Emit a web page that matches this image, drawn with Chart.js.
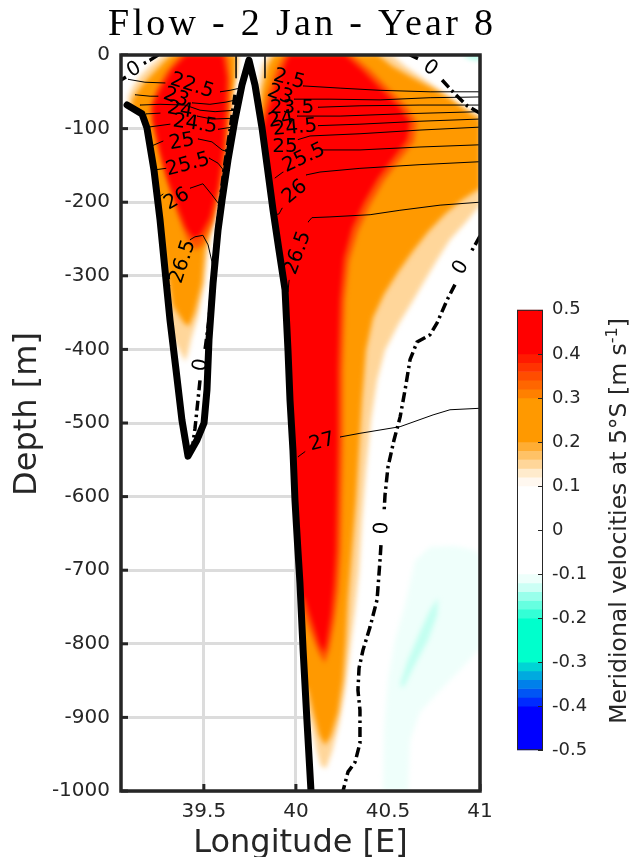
<!DOCTYPE html>
<html>
<head>
<meta charset="utf-8">
<title>Flow - 2 Jan - Year 8</title>
<script src="https://cdn.jsdelivr.net/npm/chart.js@4.4.1/dist/chart.umd.min.js"></script>
<style>
  html, body { margin: 0; padding: 0; background: #ffffff; }
  #page { position: relative; width: 631px; height: 857px; overflow: hidden; }
  #section { position: absolute; left: 0; top: 0; }
  #colorbar { position: absolute; left: 505px; top: 290px; }
</style>
</head>
<body>
<div id="page">
  <canvas id="section" width="631" height="857"></canvas>
  <canvas id="colorbar" width="126" height="480"></canvas>
</div>
<script>
// ---------------- axes and legend ----------------
const chartTitle = 'Flow - 2 Jan - Year 8';
const xTicks = [39.5, 40, 40.5, 41];
const yTicks = [0, -100, -200, -300, -400, -500, -600, -700, -800, -900, -1000];
const cbTicks = [0.5, 0.4, 0.3, 0.2, 0.1, 0, -0.1, -0.2, -0.3, -0.4, -0.5];
const cbBreaks = [-0.5, -0.4, -0.38, -0.36, -0.34, -0.32, -0.3, -0.2, -0.18, -0.16, -0.14, -0.12, -0.1,
                  0.1, 0.12, 0.14, 0.16, 0.18, 0.2, 0.3, 0.32, 0.34, 0.36, 0.38, 0.4, 0.5];
const cbColors = ['#0000ff', '#002bff', '#0055f5', '#0080ea', '#00aadf', '#00d4d5', '#00ffcc',
                  '#33ffd6', '#66ffe0', '#99ffeb', '#ccfff5', '#eefffb', '#ffffff',
                  '#fff8f0', '#ffebcc', '#ffd699', '#ffc266', '#ffad33', '#ff9900',
                  '#ff8000', '#ff6600', '#ff4d00', '#ff3300', '#ff1a00', '#ff0000'];

// ---------------- sea floor along 5°S (lon, depth m) ----------------
const bottomProfile = [
  [39.083, -68], [39.164, -80], [39.191, -99], [39.229, -156], [39.262, -224], [39.289, -292],
  [39.316, -360], [39.349, -428], [39.381, -496], [39.414, -545], [39.463, -523], [39.501, -500],
  [39.517, -455], [39.528, -387], [39.550, -310], [39.577, -238], [39.599, -197], [39.631, -143],
  [39.669, -88], [39.707, -41], [39.745, -7], [39.778, -41], [39.816, -99], [39.843, -149],
  [39.876, -211], [39.908, -265], [39.941, -319], [39.957, -401], [39.968, -469], [39.984, -537],
  [39.995, -605], [40.011, -673], [40.022, -717], [40.039, -808], [40.060, -904], [40.082, -1000]
];
const reefEdgeWest = [[39.675, 0], [39.675, -31]];
const reefEdgeEast = [[39.832, 0], [39.832, -31]];

// ---------------- meridional velocity, filled levels ----------------
const eastJet10 = [
  [39.848, 0], [40.522, 0], [40.593, -15], [40.685, -31], [40.783, -48], [40.881, -67], [40.957, -77], [41.0, -80],
  [41.0, -204], [40.924, -227], [40.837, -251], [40.766, -279], [40.701, -306], [40.631, -336], [40.555, -367],
  [40.484, -401], [40.441, -442], [40.408, -496], [40.381, -564], [40.359, -632], [40.343, -700], [40.321, -754],
  [40.294, -808], [40.267, -863], [40.234, -910], [40.196, -947], [40.164, -969], [40.136, -966], [40.109, -942],
  [40.077, -904], [40.022, -876], [39.914, -605], [39.832, -333], [39.778, -129], [39.794, -48], [39.816, -14]
];
const eastJet20 = [
  [39.881, 0], [40.446, 0], [40.522, -15], [40.620, -29], [40.739, -45], [40.848, -61], [40.935, -77], [41.0, -88],
  [41.0, -181], [40.902, -197], [40.810, -216], [40.718, -240], [40.631, -268], [40.555, -295], [40.479, -325],
  [40.419, -357], [40.381, -401], [40.359, -469], [40.343, -537], [40.327, -605], [40.305, -673], [40.283, -740],
  [40.272, -795], [40.256, -849], [40.229, -893], [40.191, -925], [40.158, -938], [40.126, -924], [40.093, -893],
  [40.066, -863], [40.011, -849], [39.914, -605], [39.832, -333], [39.794, -115], [39.816, -48], [39.848, -14]
];
const eastJet30 = [
  [39.935, 0], [40.305, 0], [40.403, -20], [40.500, -45], [40.598, -69], [40.658, -91], [40.642, -118],
  [40.560, -144], [40.479, -171], [40.403, -204], [40.337, -240], [40.289, -281], [40.267, -333], [40.256, -428],
  [40.256, -523], [40.250, -605], [40.245, -673], [40.232, -727], [40.210, -770], [40.182, -808], [40.156, -826],
  [40.122, -812], [40.080, -785], [40.044, -761], [39.990, -740], [39.903, -469], [39.837, -224], [39.805, -102],
  [39.843, -54], [39.892, -20]
];
const eastJet40 = [
  [39.963, 0], [40.267, 0], [40.359, -20], [40.457, -45], [40.555, -69], [40.620, -91], [40.604, -115],
  [40.528, -140], [40.446, -167], [40.370, -200], [40.305, -235], [40.261, -276], [40.240, -333], [40.229, -428],
  [40.229, -523], [40.223, -605], [40.218, -673], [40.207, -720], [40.191, -761], [40.169, -796], [40.153, -812],
  [40.126, -800], [40.087, -770], [40.049, -740], [39.995, -727], [39.914, -469], [39.848, -224], [39.816, -102],
  [39.870, -58], [39.914, -27]
];
const westJet10 = [
  [39.278, 0], [39.686, 0], [39.680, -27], [39.660, -54], [39.636, -102], [39.603, -156], [39.565, -211],
  [39.523, -265], [39.505, -310], [39.468, -356], [39.432, -385], [39.414, -405], [39.398, -416], [39.375, -405],
  [39.320, -380], [39.250, -250], [39.180, -120], [39.110, -85], [39.088, -58], [39.110, -45], [39.153, -29],
  [39.208, -15], [39.251, -5]
];
const westJet20 = [
  [39.327, 0], [39.675, 0], [39.672, -27], [39.650, -61], [39.625, -110], [39.590, -165], [39.550, -220],
  [39.506, -265], [39.490, -310], [39.450, -350], [39.420, -368], [39.395, -365], [39.330, -340], [39.250, -220],
  [39.175, -110], [39.115, -75], [39.110, -61], [39.153, -45], [39.208, -29], [39.262, -15], [39.300, -5]
];
const westJet30 = [
  [39.370, 0], [39.631, 0], [39.645, -34], [39.640, -75], [39.622, -129], [39.590, -183], [39.550, -227],
  [39.495, -258], [39.452, -265], [39.409, -251], [39.360, -219], [39.316, -183], [39.273, -143], [39.235, -102],
  [39.208, -72], [39.240, -48], [39.294, -23]
];
const westJet40 = [
  [39.403, 0], [39.604, 0], [39.625, -31], [39.620, -75], [39.605, -129], [39.575, -181], [39.533, -221],
  [39.479, -246], [39.441, -249], [39.403, -235], [39.354, -204], [39.305, -170], [39.262, -132], [39.229, -94],
  [39.224, -68], [39.262, -48], [39.327, -20]
];
const southFlow10 = [
  [40.473, -1000], [40.479, -917], [40.500, -849], [40.538, -795], [40.593, -747], [40.647, -687], [40.729, -668],
  [40.864, -667], [40.973, -673], [41.0, -680], [41.0, -806], [40.902, -833], [40.783, -863], [40.674, -893],
  [40.620, -931], [40.609, -1000]
];
const southFlow15 = [
  [40.772, -738], [40.767, -761], [40.718, -795], [40.642, -830], [40.582, -860], [40.566, -855], [40.609, -822],
  [40.674, -784], [40.729, -754]
];
const southFlowSurface = [[40.902, 0], [41.0, 0], [41.0, -7], [40.946, -5]];

// ---------------- zero-velocity contours (null = label gap) ----------------
const zeroNW = [[39.251, 0], [39.208, -7], [39.170, -12], null, [39.077, -30], [39.050, -34]];
const zeroWestBasin = [
  [39.669, -54], [39.642, -102], [39.609, -156], [39.582, -211], [39.555, -279], [39.528, -360], [39.506, -401],
  null, [39.479, -442], [39.468, -469], [39.452, -507], [39.441, -527]
];
const zeroNE = [[40.620, 0], [40.663, -5], null, [40.794, -34], [40.864, -53], [40.930, -69], [41.0, -79]];
const zeroEast = [
  [41.0, -246], [40.946, -270], null, [40.864, -312], [40.821, -333], [40.767, -364], [40.729, -380],
  [40.658, -390], [40.620, -414], [40.593, -455], [40.566, -492], [40.533, -523], [40.500, -560], [40.484, -598],
  [40.479, -621], null, [40.462, -666], [40.457, -686], [40.441, -740], [40.403, -777], [40.365, -808],
  [40.343, -833], [40.337, -863], [40.348, -890], [40.348, -935], [40.321, -961], [40.283, -974], [40.256, -1000]
];

// ---------------- potential density contours (null = label gap) ----------------
const sigmaW225 = [[39.088, -33], [39.180, -37], [39.289, -38], null, [39.588, -50], [39.642, -48], [39.696, -45]];
const sigmaW230 = [[39.126, -54], [39.208, -56], [39.251, -56], null, [39.436, -65], [39.533, -67], [39.620, -64], [39.675, -61]];
const sigmaW235 = [[39.153, -68], [39.262, -67], [39.398, -68], [39.479, -75], [39.561, -77], [39.669, -75]];
const sigmaW240 = [[39.186, -80], [39.262, -79], null, [39.463, -83], [39.544, -87], [39.658, -86]];
const sigmaW245 = [[39.197, -98], [39.316, -94], null, [39.577, -101], [39.653, -98]];
const sigmaW250 = [[39.213, -124], [39.278, -117], null, [39.468, -114], [39.544, -118], [39.599, -129], [39.637, -132]];
const sigmaW255 = [[39.235, -156], [39.294, -154], null, [39.528, -140], [39.577, -147], [39.615, -159]];
const sigmaW260 = [[39.251, -194], [39.278, -189], null, [39.425, -181], [39.495, -175], [39.544, -190], [39.577, -201], [39.593, -208]];
const sigmaW265 = [[39.294, -319], [39.316, -314], null, [39.425, -251], [39.452, -247], [39.495, -245], [39.523, -258], [39.544, -281], [39.550, -292]];

const sigmaE225 = [[40.039, -42], [40.240, -45], [40.457, -48], [40.729, -50], [41.0, -50]];
const sigmaE230 = [[39.990, -60], [40.185, -60], [40.457, -61], [40.729, -58], [41.0, -57]];
const sigmaE235 = [[40.120, -71], [40.348, -69], [40.674, -68], [41.0, -68]];
const sigmaE240 = [[40.006, -83], [40.240, -83], [40.566, -80], [41.0, -77]];
const sigmaE245 = [[40.120, -96], [40.348, -94], [40.674, -90], [41.0, -87]];
const sigmaE250 = [[40.011, -115], [40.077, -110], [40.348, -107], [40.674, -102], [41.0, -98]];
const sigmaE255 = [[39.930, -159], [39.887, -167], null, [40.142, -129], [40.348, -129], [40.674, -125], [41.0, -122]];
const sigmaE260 = [[39.925, -208], [39.908, -216], [39.886, -217], null, [40.055, -163], [40.131, -159], [40.348, -154], [40.674, -149], [41.0, -145]];
const sigmaE265 = [[39.963, -306], [39.957, -322], [39.946, -325], null, [40.066, -227], [40.087, -221], [40.185, -220], [40.403, -217], [40.565, -211], [40.783, -204], [41.0, -200]];
const sigmaE270 = [[40.011, -546], [40.049, -539], null, [40.240, -519], [40.348, -514], [40.566, -505], [40.745, -489], [40.837, -482], [41.0, -480]];

// contour labels: text, lon, depth, tilt (deg)
const contourLabels = [
  ['22.5', 39.436, -42, 18], ['23', 39.349, -58, 20], ['24', 39.370, -75, 10], ['24.5', 39.452, -94, 8],
  ['25', 39.381, -118, -10], ['25.5', 39.414, -149, -15], ['26', 39.354, -196, -30], ['26.5', 39.387, -281, -72],
  ['2.5', 39.963, -33, 15], ['23', 39.914, -54, 20], ['23.5', 39.979, -72, 0], ['24', 39.919, -88, -10],
  ['24.5', 39.995, -99, -5], ['25', 39.941, -125, 0], ['25.5', 40.044, -140, -25], ['26', 39.995, -186, -40],
  ['26.5', 40.011, -269, -70], ['27', 40.142, -526, -15],
  ['0', 39.121, -20, -30], ['0', 39.485, -421, -82], ['0', 40.729, -18, 35], ['0', 40.897, -289, -60], ['0', 40.468, -643, -87]
];

// ---------------- helpers ----------------
const FONT = "'DejaVu Sans'";
Chart.defaults.font.family = FONT;

function toPoints(arr) {
  return arr.map(p => p ? { x: p[0], y: p[1] } : { x: NaN, y: null });
}
function filledArea(arr, color, order) {
  return { role: 'field', data: toPoints(arr.concat([arr[0]])), showLine: true, fill: 'shape',
           backgroundColor: color, borderColor: 'transparent', borderWidth: 0, pointRadius: 0, order };
}
function contour(arr, width, color, dash, order, role) {
  return { role: role || 'line', data: toPoints(arr), showLine: true, fill: false, borderColor: color,
           borderWidth: width, borderDash: dash || [], pointRadius: 0, order,
           borderJoinStyle: 'round', borderCapStyle: dash ? 'butt' : 'round' };
}

const oceanOutline = [[39.05, 0], [39.05, -64]].concat(bottomProfile, [[41.0, -1000], [41.0, 0]]);

const datasets = [
  { role: 'ocean', data: toPoints(oceanOutline.concat([oceanOutline[0]])), showLine: true, fill: 'shape',
    backgroundColor: '#ffffff', borderColor: 'transparent', borderWidth: 0, pointRadius: 0, order: 100 },
  filledArea(eastJet10, '#ffd69a', 95),
  filledArea(eastJet20, '#ff9900', 94),
  filledArea(eastJet30, '#ff5500', 93),
  filledArea(eastJet40, '#ff0000', 92),
  filledArea(westJet10, '#ffd69a', 95),
  filledArea(westJet20, '#ff9900', 94),
  filledArea(westJet30, '#ff5500', 93),
  filledArea(westJet40, '#ff0000', 92),
  filledArea(southFlow10, '#effffb', 91),
  filledArea(southFlow15, '#c2fff0', 90),
  filledArea(southFlowSurface, '#a0ffe6', 90)
];
[sigmaW225, sigmaW230, sigmaW235, sigmaW240, sigmaW245, sigmaW250, sigmaW255, sigmaW260, sigmaW265,
 sigmaE225, sigmaE230, sigmaE235, sigmaE240, sigmaE245, sigmaE250, sigmaE255, sigmaE260, sigmaE265, sigmaE270]
  .forEach(c => datasets.push(contour(c, 1, '#000000', null, 30)));
[zeroNW, zeroWestBasin, zeroNE, zeroEast]
  .forEach(c => datasets.push(contour(c, 3.5, '#000000', [10, 4, 2.5, 4], 20)));
datasets.push(contour(reefEdgeWest, 1.5, '#000000', null, 15));
datasets.push(contour(reefEdgeEast, 1.5, '#000000', null, 15));
datasets.push(contour(bottomProfile, 7, '#000000', null, 1, 'bottom'));

// ---------------- drawing helpers for the section ----------------
const clipState = { active: false };

function tracePath(ctx, sx, sy, arr) {
  ctx.beginPath();
  arr.forEach((p, i) => {
    const X = sx.getPixelForValue(p[0]), Y = sy.getPixelForValue(p[1]);
    if (i === 0) ctx.moveTo(X, Y); else ctx.lineTo(X, Y);
  });
  ctx.closePath();
}

function drawContourLabels(chart) {
  const { ctx, scales: { x, y } } = chart;
  ctx.save();
  ctx.filter = 'none';
  ctx.fillStyle = '#000000';
  ctx.font = '20px ' + FONT;
  ctx.textAlign = 'center';
  ctx.textBaseline = 'middle';
  contourLabels.forEach(([t, lon, dep, tilt]) => {
    ctx.save();
    ctx.translate(x.getPixelForValue(lon), y.getPixelForValue(dep));
    ctx.rotate(tilt * Math.PI / 180);
    ctx.fillText(t, 0, 0);
    ctx.restore();
  });
  ctx.restore();
}

const sectionDecor = {
  id: 'sectionDecor',
  beforeDatasetsDraw(chart) {
    const { ctx, chartArea: a, scales: { x, y } } = chart;
    // inward tick marks (hidden under water like the grid)
    ctx.save();
    ctx.strokeStyle = '#262626';
    ctx.lineWidth = 3;
    yTicks.forEach(v => {
      const py = y.getPixelForValue(v);
      ctx.beginPath(); ctx.moveTo(a.left, py); ctx.lineTo(a.left + 7, py); ctx.stroke();
    });
    xTicks.forEach(v => {
      const px = x.getPixelForValue(v);
      ctx.beginPath(); ctx.moveTo(px, a.bottom); ctx.lineTo(px, a.bottom - 7); ctx.stroke();
    });
    ctx.restore();
    // water column only
    ctx.save();
    tracePath(ctx, x, y, oceanOutline);
    ctx.clip();
    clipState.active = true;
  },
  beforeDatasetDraw(chart, args) {
    const ds = chart.data.datasets[args.index];
    if (ds.role !== 'field') chart.ctx.filter = 'none';
    if (ds.role === 'bottom' && clipState.active) {
      drawContourLabels(chart);
      chart.ctx.restore();
      clipState.active = false;
    }
  },
  afterDatasetDraw(chart, args) {
    const ds = chart.data.datasets[args.index];
    if (ds.role === 'ocean') chart.ctx.filter = 'blur(2.5px)';
  },
  afterDatasetsDraw(chart) {
    const { ctx, chartArea: a } = chart;
    if (clipState.active) { ctx.restore(); clipState.active = false; }
    ctx.save();
    ctx.filter = 'none';
    // axes box
    ctx.strokeStyle = '#262626';
    ctx.lineWidth = 3.5;
    ctx.strokeRect(a.left, a.top, a.right - a.left, a.bottom - a.top);
    // axis titles
    ctx.fillStyle = '#262626';
    ctx.font = '32px ' + FONT;
    ctx.textAlign = 'center';
    ctx.textBaseline = 'alphabetic';
    ctx.fillText('Longitude [E]', (a.left + a.right) / 2, 852);
    ctx.save();
    ctx.translate(36, 414);
    ctx.rotate(-Math.PI / 2);
    ctx.fillText('Depth [m]', 0, 0);
    ctx.restore();
    // title
    ctx.fillStyle = '#000000';
    ctx.font = "38px 'Liberation Serif'";
    ctx.textAlign = 'left';
    const w0 = ctx.measureText(chartTitle).width;
    const target = 385;
    if ('letterSpacing' in ctx) ctx.letterSpacing = Math.max(0, (target - w0) / (chartTitle.length - 1)) + 'px';
    ctx.fillText(chartTitle, (a.left + a.right) / 2 - target / 2, 35);
    ctx.restore();
  }
};

new Chart(document.getElementById('section'), {
  type: 'scatter',
  data: { datasets },
  options: {
    responsive: false,
    animation: false,
    events: [],
    layout: { padding: { left: 0, right: 151, top: 55, bottom: 0 } },
    plugins: { legend: { display: false }, tooltip: { enabled: false } },
    scales: {
      x: {
        type: 'linear', min: 39.05, max: 41.0,
        afterBuildTicks: s => { s.ticks = xTicks.map(v => ({ value: v })); },
        afterFit: s => { s.height = 66; },
        grid: { color: '#dcdcdc', lineWidth: 3, drawTicks: false },
        border: { display: false },
        ticks: { padding: 9, color: '#262626', font: { size: 20 }, maxRotation: 0, autoSkip: false,
                 callback: v => String(v) }
      },
      y: {
        type: 'linear', min: -1000, max: 0,
        afterBuildTicks: s => { s.ticks = yTicks.map(v => ({ value: v })); },
        afterFit: s => { s.width = 121; },
        grid: { color: '#dcdcdc', lineWidth: 3, drawTicks: false },
        border: { display: false },
        ticks: { padding: 11, color: '#262626', font: { size: 20 }, autoSkip: false,
                 callback: v => String(v) }
      }
    }
  },
  plugins: [sectionDecor]
});

// ---------------- colour bar ----------------
const cbBands = cbColors.map((c, i) => ({ x: 0, y: [cbBreaks[i], cbBreaks[i + 1]] }));

const colorbarDecor = {
  id: 'colorbarDecor',
  afterDatasetsDraw(chart) {
    const { ctx, chartArea: a, scales: { y } } = chart;
    ctx.save();
    ctx.strokeStyle = '#262626';
    ctx.lineWidth = 1;
    ctx.strokeRect(a.left + 0.5, a.top + 0.5, a.right - a.left - 1, a.bottom - a.top - 1);
    cbTicks.forEach(v => {
      const py = Math.round(y.getPixelForValue(v)) + 0.5;
      ctx.beginPath(); ctx.moveTo(a.right - 5, py); ctx.lineTo(a.right, py); ctx.stroke();
    });
    // rotated quantity label with superscript
    const fs = 23.5;
    const normal = fs + 'px ' + FONT;
    const small = Math.round(fs * 0.7) + 'px ' + FONT;
    const mainTxt = 'Meridional velocities at 5°S [m s';
    ctx.font = normal; const w1 = ctx.measureText(mainTxt).width; const w3 = ctx.measureText(']').width;
    ctx.font = small;  const w2 = ctx.measureText('-1').width;
    const total = w1 + w2 + w3;
    ctx.translate(121, 231);
    ctx.rotate(-Math.PI / 2);
    ctx.fillStyle = '#262626';
    ctx.textAlign = 'left';
    ctx.textBaseline = 'alphabetic';
    let sx = -total / 2;
    ctx.font = normal; ctx.fillText(mainTxt, sx, 0); sx += w1;
    ctx.font = small;  ctx.fillText('-1', sx, -fs * 0.4); sx += w2;
    ctx.font = normal; ctx.fillText(']', sx, 0);
    ctx.restore();
  }
};

new Chart(document.getElementById('colorbar'), {
  type: 'bar',
  data: { datasets: [{ data: cbBands, backgroundColor: cbColors, borderWidth: 0, barThickness: 26 }] },
  options: {
    responsive: false,
    animation: false,
    events: [],
    layout: { padding: { left: 12, top: 12, bottom: 16, right: 0 } },
    plugins: { legend: { display: false }, tooltip: { enabled: false } },
    scales: {
      x: { type: 'linear', min: -1, max: 1, offset: false, display: false },
      y: {
        position: 'right', min: -0.5, max: 0.5,
        afterBuildTicks: s => { s.ticks = cbTicks.map(v => ({ value: v })); },
        afterFit: s => { s.width = 88; },
        grid: { display: false, drawTicks: false },
        border: { display: false },
        ticks: { padding: 9, color: '#262626', font: { size: 18 }, autoSkip: false,
                 callback: v => { const r = Math.round(v * 10) / 10; return r === 0 ? '0' : String(r); } }
      }
    }
  },
  plugins: [colorbarDecor]
});
</script>
</body>
</html>
